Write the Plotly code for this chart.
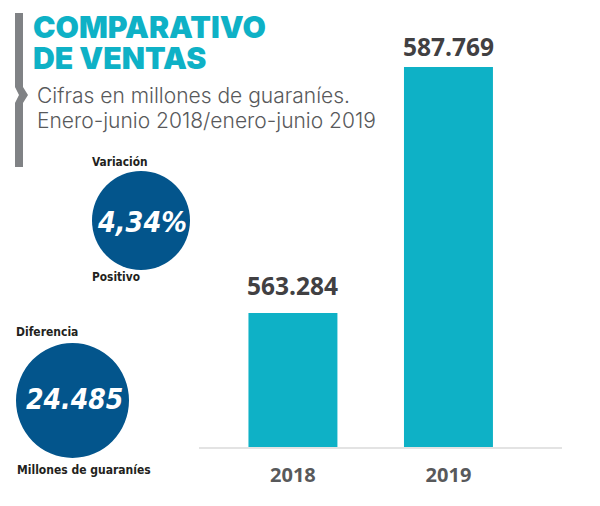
import plotly.graph_objects as go

years = ["2018", "2019"]
sales = [563284, 587769]
title_lines = ["COMPARATIVO", "DE VENTAS"]
subtitle_lines = ["Cifras en millones de guaraníes.", "Enero-junio 2018/enero-junio 2019"]
circle_values = ["4,34%", "24.485"]
circle_captions = ["Variación", "Positivo", "Diferencia", "Millones de guaraníes"]

PAGE_MARGIN = 8
W, H = 600 - PAGE_MARGIN, 506 - PAGE_MARGIN
TEAL = "#0eb1c6"
BLUE = "#03558c"
GREY = "#808285"
DARK = "#414042"
NARROW = "DejaVu Sans Condensed"
LABEL_GAPS = [9, 2]


def px(x):
    return (x - PAGE_MARGIN) / W


def py(y):
    return 1 - (y - PAGE_MARGIN) / H


fig = go.Figure(go.Bar(
    x=years, y=sales, width=0.572, marker=dict(color=TEAL, line=dict(width=0)),
    hoverinfo="skip",
))

for i, (val, gap) in enumerate(zip(sales, LABEL_GAPS)):
    fig.add_annotation(
        x=i, y=val, xref="x", yref="y", yanchor="bottom", yshift=gap, showarrow=False,
        text=f"{val:,}".replace(",", "."),
        font=dict(family="Open Sans", size=24.5, color=DARK, weight=700),
    )


def label(text, x, y, size, color, family, weight=400, anchor="left", italic=False):
    fig.add_annotation(
        text=text, xref="paper", yref="paper", x=px(x), y=py(y), xanchor=anchor, yanchor="middle",
        showarrow=False, align=anchor, borderpad=0,
        font=dict(family=family, size=size, color=color, weight=weight, style="italic" if italic else "normal"),
    )


def circle(x0, y0, x1, y1):
    fig.add_shape(type="circle", xref="paper", yref="paper", x0=px(x0), x1=px(x1), y0=py(y1), y1=py(y0),
                  fillcolor=BLUE, line=dict(width=0), layer="below")


circle(92, 171, 190, 270)
circle(16, 343, 129, 458)

pts = [(15, 13), (23, 13), (23, 87), (28, 95), (23, 103), (23, 167), (15, 167), (15, 103), (19, 95), (15, 87)]
path = "M " + " L ".join(f"{px(a):.5f},{py(b):.5f}" for a, b in pts) + " Z"
fig.add_shape(type="path", xref="paper", yref="paper", path=path, fillcolor=GREY, line=dict(width=0))

label(title_lines[0], 32, 27, 30.2, TEAL, "Inter", 900)
label(title_lines[1], 32, 58, 30.2, TEAL, "Inter", 900)
label(subtitle_lines[0], 36, 96, 21, "#58595b", "Inter", 300)
label(subtitle_lines[1], 36, 120, 21, "#58595b", "Inter", 300)
label(circle_captions[0], 91, 162, 11.8, "#231f20", NARROW, 700)
label(circle_captions[1], 91, 277, 11.8, "#231f20", NARROW, 700)
label(circle_captions[2], 15, 332, 12, "#231f20", NARROW, 700)
label(circle_captions[3], 16, 470, 12, "#231f20", NARROW, 700)
label(circle_values[0], 142, 222, 28.5, "white", NARROW, 700, "center", True)
label(circle_values[1], 74, 399, 28, "white", NARROW, 700, "center", True)

fig.update_layout(
    width=W, height=H, margin=dict(l=0, r=0, t=0, b=0), autosize=False,
    paper_bgcolor="white", plot_bgcolor="white", showlegend=False,
    xaxis=dict(domain=[px(199), px(562)], range=[-0.604, 1.73], type="category",
               showline=True, linecolor="#e3e3e3", linewidth=2, showgrid=False, ticks="",
               ticklabelstandoff=9,
               tickfont=dict(family="Open Sans", size=20, color="#58595b", weight=700)),
    yaxis=dict(domain=[py(447), 1], range=[549950, 549950 + 99.5 * (447 - PAGE_MARGIN)],
               visible=False, showgrid=False, zeroline=False),
)
fig.write_html("out.html", config={"displayModeBar": False})
